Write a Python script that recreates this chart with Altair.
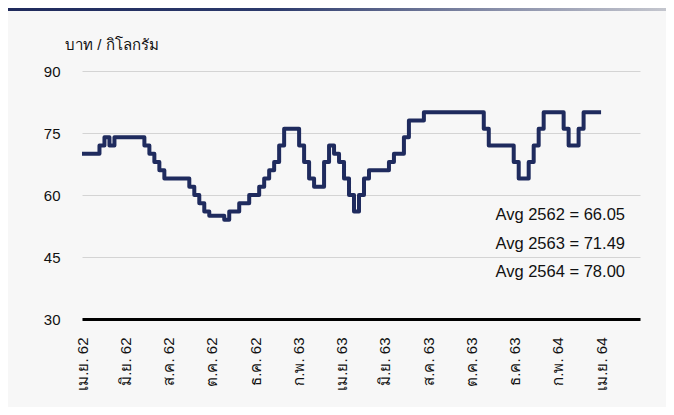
import altair as alt
import pandas as pd

# weekly price (baht / kg), Apr 2019 - Apr 2021
prices = [70, 70, 70, 70, 72, 74, 72, 74, 74, 74, 74, 74, 74, 72, 70, 68, 66, 64, 64, 64,
          64, 64, 62, 60, 58, 56, 55, 55, 55, 54, 56, 56, 58, 58, 60, 60, 62, 64, 66, 68,
          72, 76, 76, 76, 72, 68, 64, 62, 62, 68, 72, 70, 68, 64, 60, 56, 60, 64, 66, 66,
          66, 66, 68, 70, 70, 74, 78, 78, 78, 80, 80, 80, 80, 80, 80, 80, 80, 80, 80, 80,
          80, 76, 72, 72, 72, 72, 72, 68, 64, 64, 68, 72, 76, 80, 80, 80, 80, 76, 72, 72,
          76, 80, 80, 80, 80]
weeks = list(range(len(prices)))

tick_labels = ["เม.ย. 62", "มิ.ย. 62", "ส.ค. 62", "ต.ค. 62", "ธ.ค. 62", "ก.พ. 63", "เม.ย. 63",
               "มิ.ย. 63", "ส.ค. 63", "ต.ค. 63", "ธ.ค. 63", "ก.พ. 64", "เม.ย. 64"]
y_ticks = [30, 45, 60, 75, 90]
unit_label = ["บาท / กิโลกรัม"]
avg_labels = ["Avg 2562 = 66.05", "Avg 2563 = 71.49", "Avg 2564 = 78.00"]

step = (len(prices) - 1) / (len(tick_labels) - 1)
tick_vals = [i * step for i in range(len(tick_labels))]
label_expr = "[" + ",".join("'" + t + "'" for t in tick_labels) + "][round(datum.value / " + str(step) + ")]"

FONT = "Liberation Sans"
W, H = 558, 248

df = pd.DataFrame({"week": weeks, "price": prices})

line = alt.Chart(df).mark_line(
    color="#1f2b5e", strokeWidth=4, interpolate="step", strokeJoin="round"
).encode(
    x=alt.X("week:Q", scale=alt.Scale(domain=[0, 111.8], nice=False, zero=False),
            axis=alt.Axis(values=tick_vals, labelExpr=label_expr, labelAngle=-90,
                          labelPadding=18, labelFontSize=15, labelColor="#111111",
                          labelFont=FONT, ticks=False, grid=False, domain=True,
                          domainColor="#000000", domainWidth=3, title=None)),
    y=alt.Y("price:Q", scale=alt.Scale(domain=[30, 90], nice=False, zero=False),
            axis=alt.Axis(values=y_ticks, labelPadding=22, labelFontSize=15,
                          labelColor="#111111", labelFont=FONT, ticks=False,
                          domain=False, grid=True, gridColor="#d4d4d4", gridWidth=1,
                          title=None))
)

unit = alt.Chart(pd.DataFrame({"t": unit_label})).mark_text(
    align="left", baseline="middle", fontSize=15, font=FONT, color="#111111"
).encode(x=alt.value(-17), y=alt.value(-26), text="t:N")

avg_layers = []
for i, lab in enumerate(avg_labels):
    avg_layers.append(
        alt.Chart(pd.DataFrame({"t": [lab]})).mark_text(
            align="right", baseline="middle", fontSize=16.5, font=FONT, color="#111111"
        ).encode(x=alt.value(543), y=alt.value(144 + i * 28.5), text="t:N")
    )

bar = alt.Chart(pd.DataFrame({"k": [0]})).mark_rect(
    color=alt.Gradient(
        gradient="linear", x1=0, x2=1, y1=0, y2=0,
        stops=[alt.GradientStop(color="#1f2a5c", offset=0),
               alt.GradientStop(color="#2c3a6c", offset=0.4),
               alt.GradientStop(color="#8a90aa", offset=0.75),
               alt.GradientStop(color="#c4c6ce", offset=1)]
    )
).encode(x=alt.value(-74), x2=alt.value(584), y=alt.value(-63), y2=alt.value(-60))

chart = alt.layer(bar, line, unit, *avg_layers).properties(
    width=W, height=H,
    autosize=alt.AutoSizeParams(type="none"),
    padding={"left": 74, "top": 63, "right": 26, "bottom": 88},
    background="#f7f7f7"
).configure_view(stroke=None)

chart.save("out.html", embed_options={"renderer": "svg", "actions": False})
